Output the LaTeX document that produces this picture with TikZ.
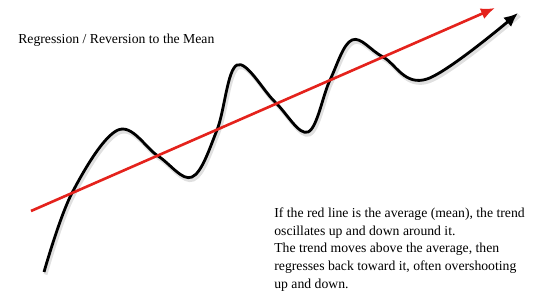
\documentclass[tikz,border=0pt]{standalone}
\usepackage{fontspec}
\setmainfont{Liberation Serif}
\usetikzlibrary{arrows.meta}
\definecolor{meanred}{RGB}{228,34,28}

\begin{document}
\begin{tikzpicture}[x=0.02cm, y=-0.02cm,
  every node/.style={font=\fontsize{7.8}{10.05}\selectfont, inner sep=0pt},
  meanline/.style={-{Latex[length=8pt,width=6.5pt]}, line width=1.5pt, meanred},
  trendline/.style={-{Latex[length=8pt,width=7pt]}, line width=1.6pt, black}]
\useasboundingbox (0,0) rectangle (550,304);
% titolo
\node[anchor=base west] (title) at (18,44) {Regression / Reversion to the Mean};
% andamento che oscilla attorno alla media
\def\trend{(44,272) (72,193) (118,130) (158,156) (192,177) (217,130) (237,65)
  (275,102) (308,132) (330,80) (352,40) (383,57) (427,79) (518,13)}
\draw[line width=2.2pt, black!35, opacity=0.35, shift={(1.5,2.5)}]
  plot[smooth, tension=0.6] coordinates {\trend};
\draw[trendline] plot[smooth, tension=0.6] coordinates {\trend};
% retta della media
\coordinate (m0) at (31,211);
\coordinate (m1) at (495,8);
\draw[meanline] (m0) -- (m1);
% testo (base = ultima riga)
\node[anchor=base west, align=left] (note) at (274,288)
  {If the red line is the average (mean), the trend\\
   oscillates up and down around it.\\
   The trend moves above the average, then\\
   regresses back toward it, often overshooting\\
   up and down.};
\end{tikzpicture}
\end{document}
